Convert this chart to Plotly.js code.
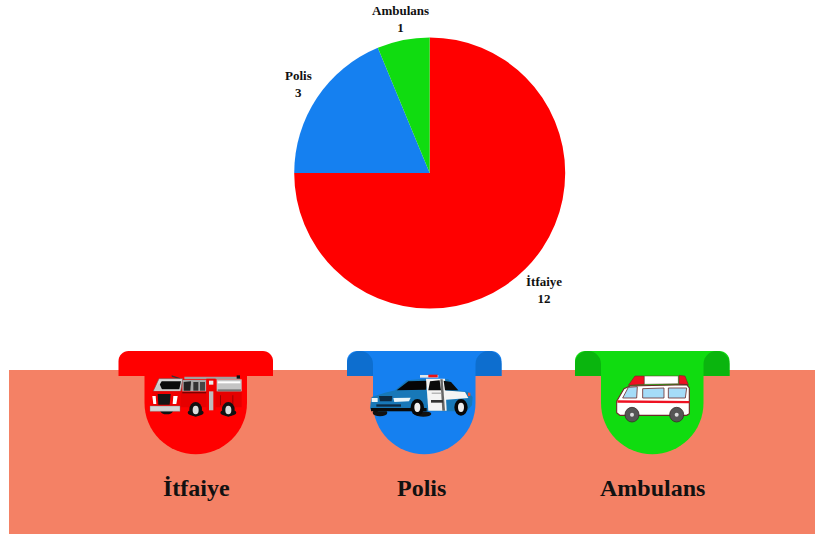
<!DOCTYPE html>
<html><head><meta charset="utf-8">
<script src="https://cdn.plot.ly/plotly-3.0.1.min.js"></script>
<style>html,body{margin:0;padding:0;background:#fff}#c{width:815px;height:534px}</style>
</head><body><div id="c"></div>
<script>
const categories = ['İtfaiye', 'Polis', 'Ambulans'];
const values = [12, 3, 1];
const sliceColors = ['#ff0000', '#1580f0', '#10dc10'];
const earColors = ['#ff0000', '#0d6ecf', '#0ab50e'];
const W = 815, H = 534, FONT = '"Liberation Serif", serif';

const fx = x => (x / W).toFixed(5), fy = y => (1 - y / H).toFixed(5);
const shapes = [];
function path(d, fill, line, lw) {
  const s = d.replace(/(-?[\d.]+),(-?[\d.]+)/g, (m, x, y) => fx(+x) + ',' + fy(+y));
  shapes.push({type: 'path', xref: 'paper', yref: 'paper', path: s, fillcolor: fill,
    line: {color: line || fill, width: line ? (lw || 0.6) : 0}, layer: 'above'});
}
function rrect(x0, y0, x1, y1, fill) { path(`M${x0},${y0} L${x1},${y0} L${x1},${y1} L${x0},${y1} Z`, fill); }
function ell(cx, cy, rx, ry, fill, line, lw) {
  shapes.push({type: 'circle', xref: 'paper', yref: 'paper', x0: fx(cx - rx), x1: fx(cx + rx), y0: fy(cy + ry), y1: fy(cy - ry),
    fillcolor: fill, line: {color: line || fill, width: line ? (lw || 0.6) : 0}, layer: 'above'});
}
function arcPts(cx, cy, rx, ry, a0, a1, n) {
  const p = [];
  for (let i = 0; i <= n; i++) { const a = (a0 + (a1 - a0) * i / n) * Math.PI / 180; p.push((cx + rx * Math.cos(a)).toFixed(2) + ',' + (cy + ry * Math.sin(a)).toFixed(2)); }
  return p;
}
function pts(list) { return 'M' + list.join(' L') + ' Z'; }

rrect(9, 370, 815, 534, '#f48165');

[[118.5, 0], [347, 1], [575, 2]].forEach(([x, i]) => {
  const col = sliceColors[i], ear = earColors[i];
  const xl = x, xr = x + 154.5, bl = x + 26, br = x + 128.5, r = (br - bl) / 2, cx = (bl + br) / 2;
  path(pts([...arcPts(xl + 10, 361, 10, 10, 180, 270, 8), ...arcPts(xr - 10, 361, 10, 10, 270, 360, 8), xr + ',376', xl + ',376']), col);
  path(pts([bl + ',351', br + ',351', ...arcPts(cx, 403, r, r, 0, 180, 32), bl + ',403']), col);
  if (i > 0) {
    path(pts([...arcPts(xl + 13, 364, 13, 13, 180, 360, 14), (xl + 26) + ',376', xl + ',376']), ear);
    path(pts([...arcPts(xr - 13, 364, 13, 13, 180, 360, 14), xr + ',376', (xr - 26) + ',376']), ear);
  }
});

function Z(ox, oy) {
  const c = s => s.replace(/(-?[\d.]+),(-?[\d.]+)/g, (m, x, y) => (ox + x / 3).toFixed(2) + ',' + (oy + y / 3).toFixed(2));
  return {
    p: (d, f, l, w) => path('M' + c(d).trim().split(/\s+/).join(' L') + ' Z', f, l, w),
    e: (x, y, rx, ry, f, l, w) => ell(ox + x / 3, oy + y / 3, rx / 3, ry / 3, f, l, w)
  };
}

// fire engine
{
  const z = Z(145, 372);
  z.e(65, 118, 18, 9, '#111'); z.e(152, 122, 24, 10, '#111'); z.e(250, 122, 24, 10, '#111');
  z.p('100,50 290,50 290,106 100,106', '#e60000');
  z.p('80,10 105,18 105,22 80,14', '#333');
  z.p('118,14 285,14 285,22 118,22', '#a0a0a0');
  z.p('275,10 285,10 285,20 275,20', '#111');
  z.p('215,22 290,22 290,58 215,58', '#c4c4c4');
  z.p('218,28 286,28 286,34 218,34', '#fff');
  z.p('218,52 288,52 288,58 218,58', '#777');
  z.p('112,24 184,24 184,58 112,58', '#a8a8a8');
  z.p('116,30 138,28 136,56 116,56', '#222');
  z.p('145,30 160,30 160,56 145,56', '#333');
  z.p('165,30 180,30 180,56 165,56', '#444');
  z.p('112,60 184,60 184,64 112,64', '#7a0000');
  z.p('184,20 212,20 212,115 184,115', '#f00000');
  z.p('192,58 205,58 205,115 192,115', '#bdbdbd');
  z.p('192,26 205,26 205,38 192,38', '#e8e8e8');
  z.p('225,70 228,70 228,100 225,100', '#990000');
  z.p('262,70 265,70 265,100 262,100', '#990000');
  z.p('25,58 42,20 113,20 107,58', '#d8d8d8', '#666', 0.6);
  z.p('36,52 50,28 108,28 103,52', '#0a0a0a');
  z.p('28,54 42,32 52,54', '#c8c8c8');
  z.p('22,58 108,58 108,102 22,102', '#f00000');
  z.p('38,66 77,66 74,98 40,98', '#151515');
  z.p('22,72 32,72 34,96 25,96', '#fff');
  z.p('85,72 98,72 94,96 83,96', '#fff');
  z.p('15,102 105,102 105,118 15,118', '#d4d4d4', '#777', 0.4);
  z.e(152, 112, 19, 22, '#111'); z.e(152, 114, 9, 13, '#ddd');
  z.e(250, 112, 19, 22, '#111'); z.e(250, 114, 9, 13, '#ddd');
}
// police car
{
  const z = Z(365, 372);
  z.e(45, 122, 22, 11, '#111'); z.e(175, 126, 24, 8, '#111');
  z.p('17,92 20,75 60,62 90,55 125,25 185,20 250,22 278,55 310,60 323,75 321,100 305,118 40,118 15,112', '#1878b8');
  z.p('95,55 130,28 188,26 183,53', '#050505');
  z.p('235,55 300,60 310,78 235,84', '#f4f4f4');
  z.p('183,20 240,20 245,116 190,116', '#f4f4f4');
  z.p('195,28 224,25 228,55 190,55', '#0b0b0b');
  z.p('236,26 258,30 280,55 240,55', '#0b0b0b');
  z.p('226,22 233,22 240,116 232,116', '#666');
  z.p('198,84 234,84 234,92 198,92', '#333');
  z.p('200,62 230,62 230,65 200,65', '#999');
  z.p('165,9 220,9 220,17 165,17', '#dfe6ea');
  z.p('190,8 218,8 218,16 190,16', '#ee1111');
  z.p('42,72 82,72 80,88 45,88', '#0c2a44');
  z.p('85,78 137,77 132,88 88,90', '#e8f4f8');
  z.p('20,78 38,78 38,90 20,90', '#e8f4f8');
  z.p('18,108 185,108 185,118 18,118', '#0a0a0a');
  z.p('34,97 108,97 108,104 34,104', '#0c2a44');
  z.p('309,62 316,62 316,72 309,72', '#e5533a');
  z.e(157, 106, 20, 25, '#080808'); z.e(157, 106, 9, 14, '#eee');
  z.e(288, 106, 20, 25, '#080808'); z.e(288, 106, 9, 14, '#eee');
}
// ambulance
{
  const z = Z(610, 372), o = '#6b2a2a';
  z.p('55,40 75,12 103,12 103,37', '#ee1122', o, 0.6);
  z.p('103,12 205,12 205,35 103,37', '#ffffff', o, 0.5);
  z.p('207,10 225,12 235,38 207,36', '#ee1122', o, 0.6);
  z.p('20,88 42,50 60,42 230,38 238,48 238,125 230,130 30,130 20,122', '#ffffff', o, 1.1);
  z.p('38,78 55,46 82,44 80,78', '#a5dcf8', o, 0.8);
  z.p('98,50 162,48 162,78 98,78', '#a5dcf8', o, 0.8);
  z.p('175,48 230,48 226,78 175,78', '#a5dcf8', o, 0.8);
  z.p('22,85 238,87 238,94 22,92', '#ee1122');
  z.e(66, 128, 21, 22, '#555', '#3a2a2a', 0.8); z.e(66, 128, 6, 6, '#ddd');
  z.e(200, 128, 21, 22, '#555', '#3a2a2a', 0.8); z.e(200, 128, 6, 6, '#ddd');
}

const cx = 429.7, cy = 173, rad = 135.5;
const data = [{
  type: 'pie', labels: categories, values: values, sort: false, direction: 'clockwise', rotation: 0,
  marker: {colors: sliceColors, line: {width: 0}},
  textinfo: 'none', hoverinfo: 'label+value', automargin: false, showlegend: false,
  domain: {x: [(cx - rad) / W, (cx + rad) / W], y: [1 - (cy + rad) / H, 1 - (cy - rad) / H]}
}];
function note(x, y, text, size) {
  return {xref: 'paper', yref: 'paper', x: x / W, y: 1 - y / H, xanchor: 'center', yanchor: 'middle', showarrow: false,
    text: '<b>' + text + '</b>', font: {family: FONT, size, color: '#111'}};
}
// where each category's pie label and big caption sit
const pieLabelPos = [[544, 290], [298, 84], [400, 19]];
const captionX = [196, 421, 652.5];
const annotations = [];
categories.forEach((c, i) => {
  const [x, y] = pieLabelPos[i];
  annotations.push(note(x, y, c + '</b><br><b>' + values[i], 13), note(captionX[i], 488, c, 24));
});
const layout = {
  width: W, height: H, margin: {l: 0, r: 0, t: 0, b: 0}, paper_bgcolor: '#fff', showlegend: false,
  font: {family: FONT}, shapes, annotations
};
Plotly.newPlot('c', data, layout, {displayModeBar: false, staticPlot: true});
</script></body></html>
